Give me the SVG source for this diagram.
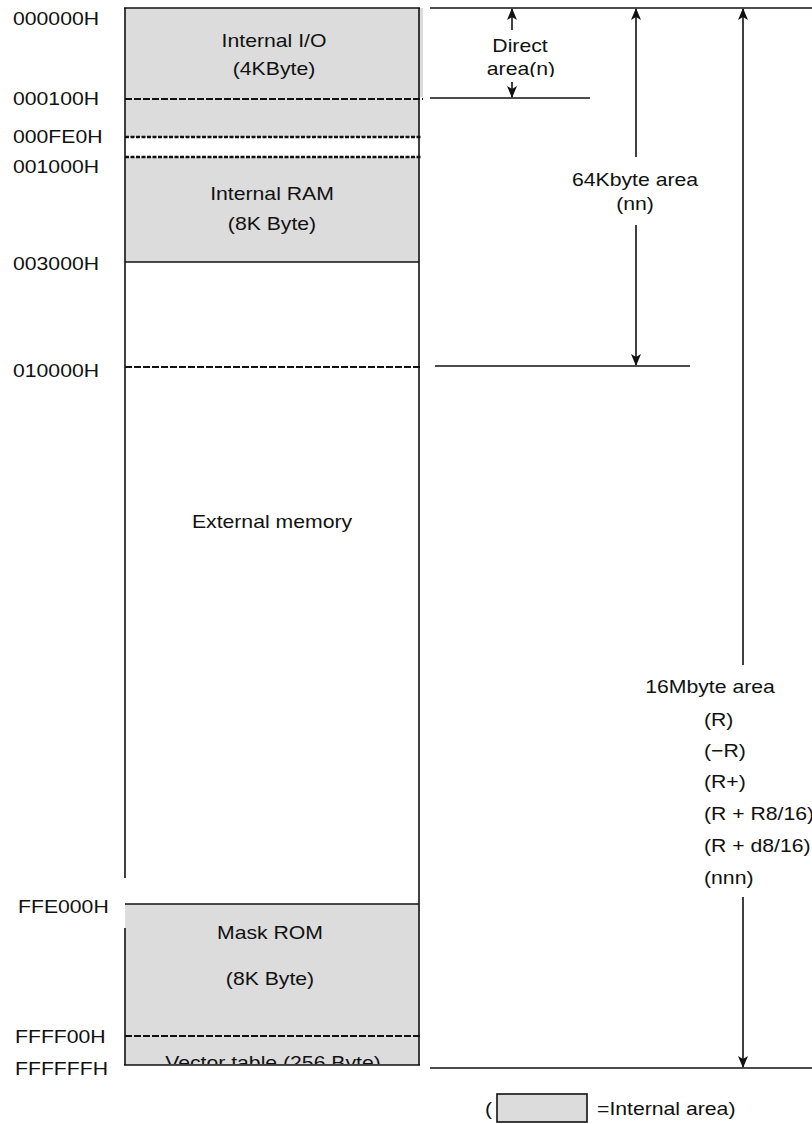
<svg xmlns="http://www.w3.org/2000/svg" width="812" height="1124" viewBox="0 0 812 1124">
<style>
  text { font-family: "Liberation Sans", Arial, sans-serif; font-size: 18.6px; fill: #111; }
  .c { text-anchor: middle; }
  .area { fill: #dcdcdc; stroke: none; }
  .edge { stroke: #111; stroke-width: 1.6; fill: none; }
  .dash { stroke: #111; stroke-width: 2.2; stroke-dasharray: 7 2; fill: none; }
  .dot { stroke: #111; stroke-width: 2.4; stroke-dasharray: 4 1.5; fill: none; }
  .ln { stroke: #111; stroke-width: 1.6; fill: none; }
  .arr { stroke: #111; stroke-width: 1.6; fill: none; marker-end: url(#ah); }
</style>
<defs>
  <marker id="ah" markerUnits="userSpaceOnUse" markerWidth="12" markerHeight="12" viewBox="0 0 12 12" refX="11" refY="6" orient="auto">
    <path d="M0,1 L12,6 L0,11 L3,6 Z" fill="#111"/>
  </marker>
  <clipPath id="clipVec"><rect x="120" y="1040" width="310" height="24"/></clipPath>
  <clipPath id="clipDir"><rect x="470" y="30" width="110" height="47"/></clipPath>
</defs>
<rect width="812" height="1124" fill="#fff"/>

<g id="addresses">
  <text transform="translate(13,25) scale(1.14,1)">000000H</text>
  <text transform="translate(13,105) scale(1.14,1)">000100H</text>
  <text transform="translate(13,143) scale(1.14,1)">000FE0H</text>
  <text transform="translate(13,173) scale(1.14,1)">001000H</text>
  <text transform="translate(13,270) scale(1.14,1)">003000H</text>
  <text transform="translate(13,377) scale(1.14,1)">010000H</text>
  <text transform="translate(18,913) scale(1.14,1)">FFE000H</text>
  <text transform="translate(15,1043) scale(1.14,1)">FFFF00H</text>
  <text transform="translate(15,1075) scale(1.14,1)">FFFFFFH</text>
</g>

<g id="internal-io">
  <rect class="area" x="125" y="8" width="294" height="129"/>
  <rect class="area" x="419" y="8" width="4" height="89"/>
  <text class="c" transform="translate(274,47) scale(1.14,1)">Internal I/O</text>
  <text class="c" transform="translate(274,75) scale(1.14,1)">(4KByte)</text>
</g>

<g id="internal-ram">
  <rect class="area" x="125" y="157" width="294" height="105"/>
  <text class="c" transform="translate(272,200) scale(1.14,1)">Internal RAM</text>
  <text class="c" transform="translate(272,230) scale(1.14,1)">(8K Byte)</text>
</g>

<g id="external-memory">
  <text class="c" transform="translate(272,528) scale(1.14,1)">External memory</text>
</g>

<g id="mask-rom">
  <rect class="area" x="125" y="904" width="294" height="161"/>
  <text class="c" transform="translate(270,939) scale(1.14,1)">Mask ROM</text>
  <text class="c" transform="translate(270,985) scale(1.14,1)">(8K Byte)</text>
</g>

<g id="vector-table">
  <g clip-path="url(#clipVec)">
    <text class="c" transform="translate(273,1069) scale(1.14,1)">Vector table (256 Byte)</text>
  </g>
</g>

<g id="memory-frame">
  <line class="edge" x1="124" y1="8" x2="420" y2="8"/>
  <line class="edge" x1="125" y1="8" x2="125" y2="878"/>
  <line class="edge" x1="125" y1="928" x2="125" y2="1065"/>
  <line class="edge" x1="419" y1="8" x2="419" y2="1065"/>
  <line class="edge" x1="124" y1="1065" x2="420" y2="1065"/>
  <line class="edge" x1="125" y1="262" x2="419" y2="262"/>
  <line class="edge" x1="125" y1="904" x2="419" y2="904"/>
  <line class="dash" x1="125" y1="99" x2="423" y2="99"/>
  <line class="dot" x1="125" y1="137" x2="421" y2="137"/>
  <line class="dot" x1="125" y1="157" x2="421" y2="157"/>
  <line class="dash" x1="125" y1="367" x2="421" y2="367"/>
  <line class="dash" x1="125" y1="1036" x2="421" y2="1036"/>
</g>

<g id="direct-area">
  <text class="c" transform="translate(520,52) scale(1.14,1)">Direct</text>
  <g clip-path="url(#clipDir)">
    <text class="c" transform="translate(521,75) scale(1.14,1)">area(n)</text>
  </g>
</g>

<g id="area-64k">
  <text class="c" transform="translate(635,186) scale(1.14,1)">64Kbyte area</text>
  <text class="c" transform="translate(635,210) scale(1.14,1)">(nn)</text>
</g>

<g id="area-16m">
  <text class="c" transform="translate(710,693) scale(1.14,1)">16Mbyte area</text>
  <text transform="translate(704,726) scale(1.14,1)">(R)</text>
  <text transform="translate(704,757) scale(1.14,1)">(−R)</text>
  <text transform="translate(704,788) scale(1.14,1)">(R+)</text>
  <text transform="translate(704,820) scale(1.14,1)">(R + R8/16)</text>
  <text transform="translate(704,852) scale(1.14,1)">(R + d8/16)</text>
  <text transform="translate(704,884) scale(1.14,1)">(nnn)</text>
</g>

<g id="connectors">
  <line class="ln" x1="430" y1="8" x2="812" y2="8"/>
  <line class="ln" x1="430" y1="98" x2="590" y2="98"/>
  <line class="ln" x1="435" y1="366" x2="690" y2="366"/>
  <line class="ln" x1="430" y1="1068" x2="812" y2="1068"/>
  <line class="arr" x1="512" y1="30" x2="512" y2="9"/>
  <line class="arr" x1="512" y1="82" x2="512" y2="97"/>
  <line class="arr" x1="636" y1="157" x2="636" y2="9"/>
  <line class="arr" x1="636" y1="225" x2="636" y2="365"/>
  <line class="arr" x1="743" y1="665" x2="743" y2="9"/>
  <line class="arr" x1="743" y1="897" x2="743" y2="1067"/>
</g>

<g id="legend">
  <text transform="translate(485,1115) scale(1.14,1)">(</text>
  <rect x="497" y="1094" width="90" height="28" fill="#dcdcdc" stroke="#111" stroke-width="1.6"/>
  <text transform="translate(597,1115) scale(1.14,1)">=Internal area)</text>
</g>
</svg>
